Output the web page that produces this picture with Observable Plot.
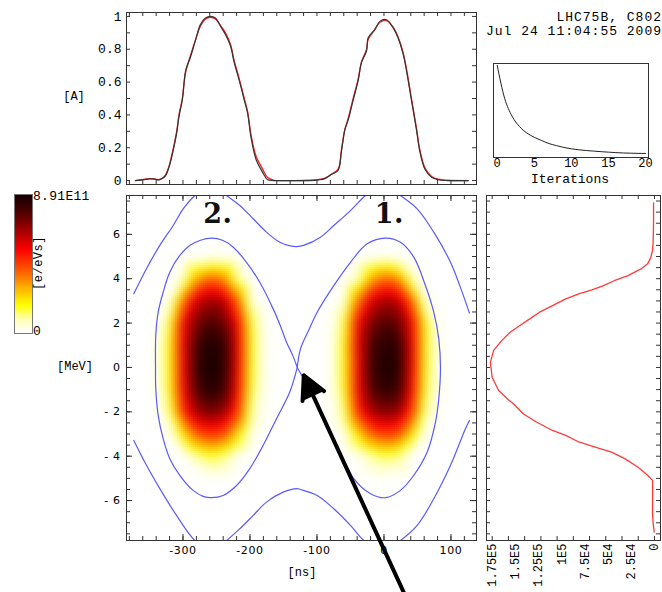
<!DOCTYPE html>
<html>
<head>
<meta charset="utf-8">
<script src="https://cdn.jsdelivr.net/npm/d3@7"></script>
<script src="https://cdn.jsdelivr.net/npm/@observablehq/plot@0.6"></script>
<style>
html,body{margin:0;padding:0;background:#fff;}
#wrap{position:relative;width:662px;height:592px;overflow:hidden;background:#fff;}
#wrap svg{position:absolute;}
.t{position:absolute;font-family:"Liberation Mono",monospace;color:#000;white-space:pre;line-height:1;}
</style>
</head>
<body>
<div id="wrap"></div>
<script>
// ---------------- DATA ----------------
// Top panel: bunch line-density profiles [A] vs time [ns]
const profileNs = [-371,-360,-350,-342,-336,-331,-326,-321,-317,-313.7,-309,-306,-301,-296,-289,-281,-274,-266.4,-259,-251.5,-244,-236.6,-229,-223.6,-216,-208.5,-203.5,-198.5,-191,-181,-174,-165,-140,-110,-98,-88,-78,-68.4,-63.4,-58.4,-53.4,-46,-38.5,-33.6,-26,-23.6,-13.7,-6,3.7,13.7,21,28.6,33.6,41,48.5,53.4,61,71,81,95,125.7];
const profileReconstructed = [0,0.004,0.01,0.008,0.004,0.012,0.03,0.08,0.14,0.2,0.3,0.39,0.49,0.67,0.75,0.86,0.95,0.99,1.0,0.99,0.94,0.89,0.82,0.72,0.61,0.49,0.41,0.265,0.13,0.05,0.006,0,0,0,0.004,0.012,0.038,0.063,0.18,0.31,0.37,0.49,0.61,0.72,0.79,0.87,0.92,0.97,0.98,0.93,0.87,0.77,0.67,0.49,0.31,0.18,0.07,0.02,0.005,0,0];
const profileMeasured = [0,0.006,0.012,0.01,0.006,0.014,0.035,0.085,0.15,0.21,0.31,0.4,0.5,0.66,0.76,0.86,0.94,0.985,0.995,0.985,0.945,0.9,0.83,0.73,0.62,0.5,0.42,0.28,0.15,0.07,0.02,0.003,0,0.002,0.006,0.015,0.04,0.07,0.19,0.31,0.38,0.5,0.62,0.72,0.8,0.86,0.92,0.965,0.975,0.935,0.875,0.78,0.68,0.5,0.32,0.19,0.08,0.025,0.008,0.002,0];
const profileYTicks = [0,0.2,0.4,0.6,0.8,1];
const profileYLabels = ["0","0.2","0.4","0.6","0.8","1"];

// Right panel: energy projection
const energyMeV = [7.42,6.8,6.17,5.6,5.27,4.95,4.67,4.44,4.14,3.92,3.65,3.5,3.32,3.09,2.79,2.49,2.19,1.89,1.59,1.22,0.77,0.24,-0.44,-1.04,-1.46,-1.64,-2.09,-2.46,-2.84,-3.06,-3.36,-3.59,-3.82,-4.11,-4.49,-4.86,-5.09,-5.5,-6.0,-6.58,-7.0,-7.42];
const energyCounts = [1000,1000,1100,1500,2100,4000,7400,14500,28600,42700,56900,67500,81600,95700,109900,123900,134500,145100,155700,164500,173400,176900,175100,168100,157500,152200,141600,127400,109900,95700,81600,63900,46300,32100,18000,7400,2100,2000,2100,2100,1500,300];
const energyTicks = [175000,150000,125000,100000,75000,50000,25000,0];
const energyTickLabels = ["1.75E5","1.5E5","1.25E5","1E5","7.5E4","5E4","2.5E4","0"];

// Convergence panel
const iterations = [0,1,2,3,4,5,6,7,8,9,10,11,12,13,14,15,16,17,18,19,20];
const discrepancy = [0.98,0.63,0.44,0.33,0.26,0.215,0.18,0.148,0.126,0.107,0.092,0.082,0.074,0.068,0.062,0.057,0.052,0.048,0.046,0.044,0.043];
const iterTicks = [0,5,10,15,20];

// Main panel: phase-space density grid (relative), per bunch
const bunchCentersNs = [0, -260];
const gridOffsetsNs = [-100,-80,-60,-40,-20,0,20,40,60,80,100];
const gridMeV = [6,5,4,3,2,1,0,-1,-2,-3,-4,-5,-6];
const bunch1Density = [
  [0,0,0,0,0,0,0,0,0,0,0],
  [0,0,0,0,0,0.02,0.01,0,0,0,0],
  [0,0,0,0.06,0.32,0.43,0.38,0.1,0,0,0],
  [0,0,0.04,0.4,0.66,0.74,0.7,0.45,0.05,0,0],
  [0,0.01,0.16,0.6,0.8,0.87,0.83,0.63,0.2,0.01,0],
  [0,0.02,0.2,0.62,0.88,0.95,0.93,0.66,0.21,0.02,0],
  [0,0.02,0.2,0.6,0.9,0.97,0.95,0.65,0.2,0.02,0],
  [0,0.02,0.19,0.6,0.86,0.93,0.9,0.62,0.18,0.02,0],
  [0,0.01,0.13,0.52,0.72,0.78,0.75,0.52,0.12,0.01,0],
  [0,0,0.02,0.24,0.44,0.5,0.47,0.26,0.02,0,0],
  [0,0,0,0,0.09,0.15,0.12,0,0,0,0],
  [0,0,0,0,0,0,0,0,0,0,0],
  [0,0,0,0,0,0,0,0,0,0,0]
];
const bunch2Density = [
  [0,0,0,0,0,0,0,0,0,0,0],
  [0,0,0,0,0,0.02,0.01,0,0,0,0],
  [0,0,0,0.07,0.33,0.44,0.38,0.09,0,0,0],
  [0,0,0.04,0.42,0.67,0.75,0.71,0.44,0.04,0,0],
  [0,0.01,0.17,0.62,0.81,0.88,0.83,0.62,0.18,0.01,0],
  [0,0.02,0.21,0.64,0.9,0.97,0.93,0.65,0.2,0.02,0],
  [0,0.02,0.21,0.63,0.92,0.99,0.94,0.64,0.19,0.02,0],
  [0,0.02,0.2,0.62,0.88,0.95,0.9,0.61,0.17,0.02,0],
  [0,0.01,0.14,0.54,0.74,0.8,0.75,0.52,0.11,0.01,0],
  [0,0,0.02,0.25,0.45,0.52,0.47,0.25,0.02,0,0],
  [0,0,0,0,0.1,0.17,0.12,0,0,0,0],
  [0,0,0,0,0,0,0,0,0,0,0],
  [0,0,0,0,0,0,0,0,0,0,0]
];

// Separatrices [ns, MeV]
const sepUpperNs  = [-373.4,-354.5,-334.6,-314.6,-299.7,-282.4,-259,-235,-215.2,-195.2,-175.4,-155.5,-140,-130,-120,-94.8,-74.9,-50,-27.6,-1.5,24.6,49.5,74.3,99.3,113,127.6];
const sepUpperMeV = [3.32,4.45,5.5,6.4,7.15,7.75,8.3,7.75,7.3,6.7,6.1,5.64,5.48,5.45,5.5,5.87,6.4,7.07,7.75,8.3,7.75,7.15,6.1,4.74,3.7,2.45];
const sepLowerNs  = [-373.4,-354.5,-334.6,-309.7,-282.4,-259,-235,-215.2,-195.2,-175.4,-150.4,-130,-124.6,-99.7,-74.9,-50,-30,-3,24.6,49.5,74.3,99.3,121.6,127.6];
const sepLowerMeV = [-3.29,-4.41,-5.46,-6.67,-7.8,-8.3,-7.8,-7.27,-6.67,-6.07,-5.62,-5.46,-5.5,-5.77,-6.37,-7.12,-7.8,-8.3,-7.8,-7.12,-5.92,-4.41,-2.76,-2.39];
const sepLeftNs  = [-129.4,-137,-145.5,-155,-165.4,-185.4,-205.2,-225,-240,-257.5,-275,-290,-304.8,-319.7,-329.6,-337,-340.6,-341,-340.6,-337,-329.6,-319.7,-304.8,-284.8,-269.9,-257.5,-240,-220,-200.3,-180.3,-160.4,-140.6,-129.4];
const sepLeftMeV = [0,0.6,1.14,1.9,2.64,3.84,4.74,5.42,5.72,5.83,5.72,5.5,5.05,4.29,3.39,2.49,1.44,0,-0.96,-2.16,-3.21,-4.11,-4.86,-5.54,-5.81,-5.87,-5.77,-5.32,-4.56,-3.51,-2.31,-1.11,0];
const sepRightNs  = [-129.4,-124.6,-112,-99.7,-74.9,-50,-25.1,2.2,24.6,44.5,61.9,74.3,81.8,84.3,81.8,76.9,64.5,44.5,24.6,2.2,-20.1,-45,-69.9,-94.8,-114.6,-129.4];
const sepRightMeV = [0,0.84,1.7,2.49,3.69,4.74,5.57,5.83,5.64,4.97,3.69,2.49,1.29,0,-1.41,-2.46,-3.81,-4.86,-5.54,-5.87,-5.69,-5.01,-3.51,-2.01,-0.81,0];

// Annotations
const arrowNs = [32, -119.7];
const arrowMeV = [-10.3, -0.36];
const bunchLabels = ["1.", "2."];
const bunchLabelNs = [8, -248];
const bunchLabelMeV = [6.5, 6.5];
const mainXTicks = [-300,-200,-100,0,100];
const mainXLabels = ["-300","-200","-100","0","100"];
const mainYTicks = [-6,-4,-2,0,2,4,6];
const mainYLabels = ["- 6","- 4","- 2","0","2","4","6"];
const colorbarLabels = ["8.91E11", "0"];
const headerLines = ["LHC75B, C802", "Jul 24 11:04:55 2009"];

// Colour ramp (white -> yellow -> orange -> red -> black)
const colorStops = [0,0.1,0.2,0.32,0.45,0.6,0.75,0.9,1];
const colorRamp = ["#ffffff","#ffffb4","#ffff00","#ffb400","#ff5a00","#ff0000","#9a0000","#3c0000","#140000"];

// ---------------- BUILD ----------------
const wrap = document.getElementById("wrap");
const frameStroke = "#333";
const xDomain = [-384.3, 138.1];
const yDomain = [-7.8, 7.75];
const colorScale = {type: "linear", domain: colorStops, range: colorRamp, interpolate: "rgb", clamp: true};

function put(node, left, top) { node.style.left = left + "px"; node.style.top = top + "px"; wrap.appendChild(node); }
function ticksX(values, frameH, len) {
  return [Plot.ruleX(values, {x: d => d, insetTop: frameH - len, stroke: frameStroke}),
          Plot.ruleX(values, {x: d => d, insetBottom: frameH - len, stroke: frameStroke})];
}
function ticksY(values, frameW, len) {
  return [Plot.ruleY(values, {y: d => d, insetRight: frameW - len, stroke: frameStroke}),
          Plot.ruleY(values, {y: d => d, insetLeft: frameW - len, stroke: frameStroke})];
}
const nsMinor = d3.range(-380, 131, 20);
const mevMinor = d3.range(-7.5, 7.51, 0.5);

// --- top profile panel ---
const profRows = profileNs.map((ns, i) => ({ns, meas: profileMeasured[i], rec: profileReconstructed[i]}));
const topPlot = Plot.plot({
  width: 480, height: 200, marginLeft: 126, marginRight: 4, marginTop: 12, marginBottom: 16,
  style: "background:transparent;overflow:visible;font-family:'Liberation Mono',monospace;font-size:13px;",
  x: {domain: xDomain, axis: null},
  y: {domain: [-0.024, 1.024]},
  marks: [
    ...ticksX(nsMinor, 172, 4),
    ...ticksY(d3.range(0, 1.001, 0.1), 350, 4),
    Plot.line(profRows, {x: "ns", y: "meas", stroke: "#ff2020", strokeWidth: 1.3, curve: "catmull-rom"}),
    Plot.line(profRows, {x: "ns", y: "rec", stroke: "#333", strokeWidth: 1.2, curve: "catmull-rom"}),
    Plot.frame({stroke: frameStroke}),
    Plot.axisY(profileYTicks, {label: null, tickSize: 0, tickPadding: 5, tickFormat: d => profileYLabels[profileYTicks.indexOf(d)]})
  ]
});
put(topPlot, 0, 0);

// --- main phase-space panel ---
const densityPoints = [];
[[bunchCentersNs[0], bunch1Density], [bunchCentersNs[1], bunch2Density]].forEach(([c, m]) => {
  gridMeV.forEach((e, r) => gridOffsetsNs.forEach((o, k) => densityPoints.push({ns: c + o, mev: e, v: m[r][k]})));
});
for (const ns of [-420, -130, 170]) for (const mev of [-9, 0, 9]) densityPoints.push({ns, mev, v: 0});

const sepRows = [];
[[sepUpperNs, sepUpperMeV], [sepLowerNs, sepLowerMeV], [sepLeftNs, sepLeftMeV], [sepRightNs, sepRightMeV]]
  .forEach(([xs, ys], id) => xs.forEach((x, i) => sepRows.push({ns: x, mev: ys[i], id})));
const arrowRows = [{x1: arrowNs[0], y1: arrowMeV[0], x2: arrowNs[1], y2: arrowMeV[1]}];
const labelRows = bunchLabels.map((t, i) => ({t, ns: bunchLabelNs[i], mev: bunchLabelMeV[i]}));

const mainPlot = Plot.plot({
  width: 480, height: 407, marginLeft: 126, marginRight: 4, marginTop: 10, marginBottom: 52,
  style: "background:transparent;overflow:visible;font-family:'DejaVu Sans',sans-serif;font-size:11px;letter-spacing:0.6px;",
  x: {domain: xDomain},
  y: {domain: yDomain},
  color: colorScale,
  marks: [
    Plot.raster(densityPoints, {x: "ns", y: "mev", fill: "v", interpolate: "barycentric", blur: 2,
      x1: xDomain[0], x2: xDomain[1], y1: yDomain[0], y2: yDomain[1], pixelSize: 2, imageRendering: "pixelated"}),
    Plot.line(sepRows, {x: "ns", y: "mev", z: "id", stroke: "#5a5aff", strokeWidth: 1.2, curve: "catmull-rom", clip: true}),
    ...ticksX(nsMinor, 345, 4),
    ...ticksX(mainXTicks, 345, 6),
    ...ticksY(mevMinor, 350, 4),
    ...ticksY(mainYTicks, 350, 6),
    Plot.frame({stroke: frameStroke}),
    Plot.axisX(mainXTicks, {label: null, tickSize: 0, tickPadding: 6, tickFormat: d => mainXLabels[mainXTicks.indexOf(d)]}),
    Plot.axisY(mainYTicks, {label: null, tickSize: 0, tickPadding: 6, tickFormat: d => mainYLabels[mainYTicks.indexOf(d)]}),
    Plot.text(labelRows, {x: "ns", y: "mev", text: "t", lineAnchor: "bottom", fontSize: 27, fontWeight: "bold", fontFamily: "DejaVu Serif", fill: "#111"}),
    Plot.arrow(arrowRows, {x1: "x1", y1: "y1", x2: "x2", y2: "y2", stroke: "black", fill: "black", strokeWidth: 4,
      headLength: 9.6, headAngle: 55, strokeLinejoin: "miter"})
  ]
});
put(mainPlot, 0, 185);

// --- right energy projection panel ---
const energyRows = energyMeV.map((m, i) => ({mev: m, c: energyCounts[i]}));
const rightPlot = Plot.plot({
  width: 182, height: 407, marginLeft: 6, marginRight: 2, marginTop: 10, marginBottom: 52,
  style: "background:transparent;overflow:visible;font-family:'Liberation Mono',monospace;font-size:12px;",
  x: {domain: [181144, -6500]},
  y: {domain: yDomain, axis: null},
  marks: [
    ...ticksX(d3.range(0, 175001, 17500), 345, 4),
    ...ticksY(mevMinor, 174, 4),
    Plot.line(energyRows, {x: "c", y: "mev", stroke: "#ff3a3a", strokeWidth: 1.3}),
    Plot.frame({stroke: frameStroke}),
    Plot.axisX(energyTicks, {label: null, tickSize: 0, tickPadding: 3, tickRotate: -90, tickFormat: d => energyTickLabels[energyTicks.indexOf(d)]})
  ]
});
put(rightPlot, 480, 185);

// --- convergence panel ---
const convRows = iterations.map((it, i) => ({it, d: discrepancy[i]}));
const convPlot = Plot.plot({
  width: 182, height: 140, marginLeft: 13, marginRight: 14, marginTop: 13, marginBottom: 33,
  style: "background:transparent;overflow:visible;font-family:'Liberation Mono',monospace;font-size:12px;",
  x: {domain: [-0.5, 20.4]},
  y: {domain: [0, 1], axis: null},
  marks: [
    Plot.line(convRows, {x: "it", y: "d", stroke: "#222", strokeWidth: 1, curve: "monotone-x"}),
    Plot.frame({stroke: frameStroke}),
    Plot.axisX(iterTicks, {label: null, tickSize: 0, tickPadding: 1})
  ]
});
put(convPlot, 480, 50);

// --- colour bar ---
const cbar = Plot.plot({
  width: 100, height: 160, marginLeft: 14, marginRight: 68, marginTop: 9, marginBottom: 12,
  style: "background:transparent;",
  x: {domain: [0, 1], axis: null},
  y: {domain: [0, 1], axis: null},
  color: colorScale,
  marks: [
    Plot.raster({fill: (x, y) => y, x1: 0, x2: 1, y1: 0, y2: 1, width: 1, height: 139, imageRendering: "pixelated"}),
    Plot.frame({stroke: "#777"})
  ]
});
put(cbar, 0, 185);

// --- loose text ---
function text(str, css) { const d = document.createElement("div"); d.className = "t"; d.textContent = str; d.style.cssText += css; wrap.appendChild(d); return d; }
const center = "transform:translate(-50%,-50%);";
text("[A]", `left:74px;top:97px;font-size:12px;${center}`);
text("[MeV]", `left:75px;top:367px;font-size:12px;${center}`);
text("[ns]", `left:302px;top:573px;font-size:12px;${center}`);
text("Iterations", `left:570px;top:178.5px;font-size:13px;${center}`);
text("[e/eVs]", `left:39px;top:263px;font-size:12px;letter-spacing:0.5px;transform:translate(-50%,-50%) rotate(-90deg);`);
text(colorbarLabels[0], `left:33px;top:189.5px;font-size:13px;letter-spacing:0.3px;`);
text(colorbarLabels[1], `left:33px;top:325px;font-size:13px;`);
text(headerLines[0], `right:0px;top:10.7px;font-size:13px;letter-spacing:1px;`);
text(headerLines[1], `right:0px;top:25px;font-size:13px;letter-spacing:1px;`);
</script>
</body>
</html>
